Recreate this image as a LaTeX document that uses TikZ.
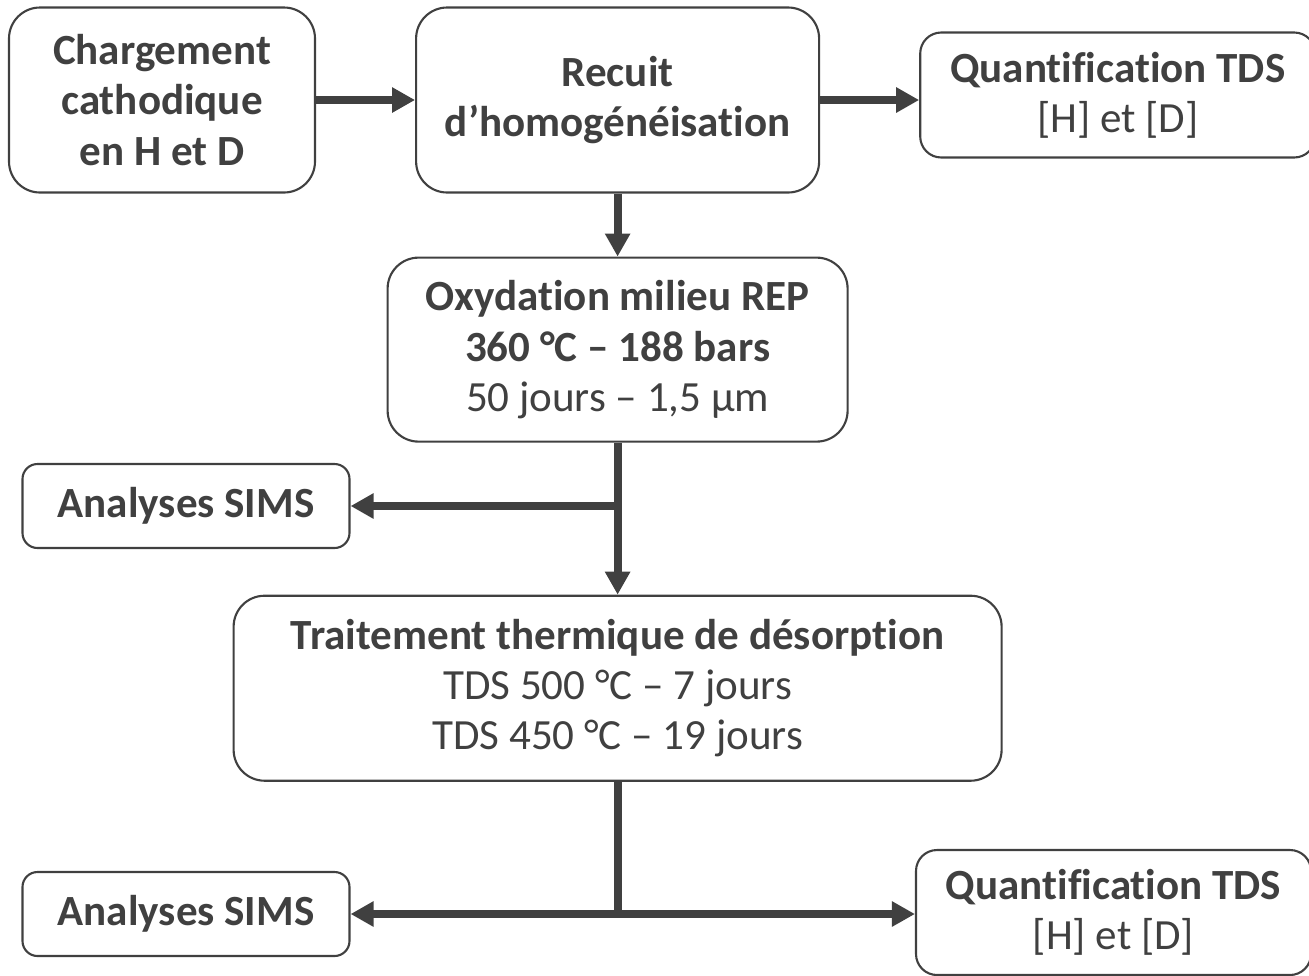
\documentclass[tikz,border=0pt]{standalone}
\usepackage{fontspec}
\setmainfont[Ligatures=NoCommon]{Carlito}
\usepackage{tikz}
\usetikzlibrary{positioning,arrows.meta,calc}
\definecolor{ink}{HTML}{404040}
\tikzset{
	flowchart/.style={>={Triangle[length=0.46cm,width=0.48cm]},line width=4.6pt,
		draw=ink,text=ink,font=\fontsize{24.5}{28.5}\selectfont},
	stepbox/.style={rectangle,draw=ink,line width=1.2pt,rounded corners=0.62cm,
		align=center,inner sep=2pt,minimum height=3.7cm},
	smallbox/.style={stepbox,rounded corners=0.3cm,minimum width=6.54cm,minimum height=1.68cm},
	tdsbox/.style={stepbox,rounded corners=0.42cm,minimum width=7.9cm,minimum height=2.5cm},
	flow/.style={->,line width=4.6pt}
}

\begin{document}
\begin{tikzpicture}[flowchart]
	\useasboundingbox (0,0) rectangle (26.18,-19.5);
	
	\node[stepbox, minimum width=6.12cm] (chg) at (3.24,-2.0) {\bfseries Chargement\\\bfseries cathodique\\\bfseries en H et D};
	\node[stepbox, minimum width=8.06cm] (rec) [right=1.98cm of chg] {\bfseries Recuit\\\bfseries d’homogénéisation};
	\node[tdsbox] (qt1) [right=1.98cm of rec, yshift=0.1cm] {\bfseries Quantification TDS\\{[H] et [D]}};
	\node[stepbox, minimum width=9.2cm, minimum height=3.68cm] (oxy) [below=1.26cm of rec] {\bfseries Oxydation milieu REP\\\bfseries 360 °C – 188 bars\\50 jours – 1,5 µm};
	\node[stepbox, minimum width=15.36cm] (trt) [below=3.04cm of oxy] {\bfseries Traitement thermique de désorption\\TDS 500 °C – 7 jours\\TDS 450 °C – 19 jours};
	\node[smallbox] (sims1) at (3.72,-10.12) {\bfseries Analyses SIMS};
	\node[smallbox] (sims2) at (3.72,-18.28) {\bfseries Analyses SIMS};
	\node[tdsbox] (qt2) at (22.27,-18.25) {\bfseries Quantification TDS\\{[H] et [D]}};
	
	\draw[flow] (chg) -- (rec);
	\draw[flow] (rec) -- (rec -| qt1.west);
	\draw[flow] (rec) -- (oxy);
	\draw[flow] (oxy) -- (trt);
	\coordinate (b1) at (oxy.south |- sims1);
	\draw[flow] (b1) -- (sims1);
	\coordinate (b2) at (trt.south |- sims2);
	\draw (trt.south) -- (b2);
	\draw[flow] (b2) -- (sims2);
	\draw[flow] (b2) -- (b2 -| qt2.west);
\end{tikzpicture}
\end{document}
